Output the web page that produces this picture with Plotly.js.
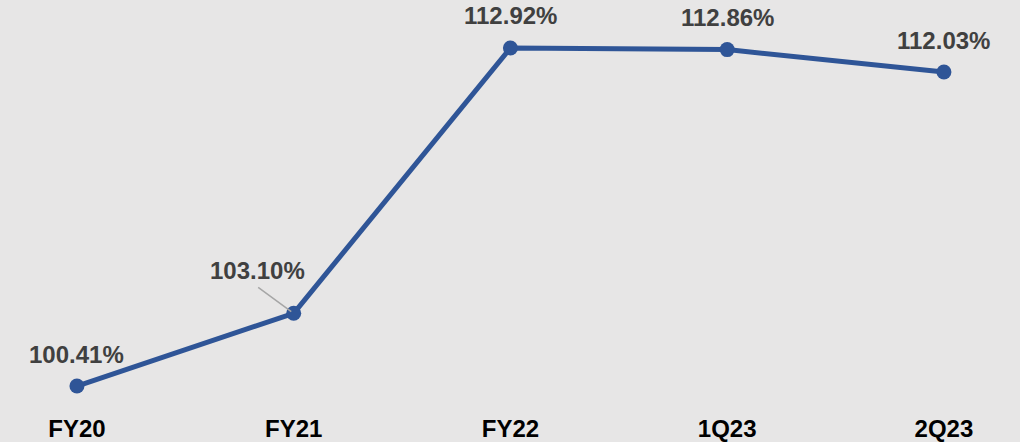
<!DOCTYPE html>
<html>
<head>
<meta charset="utf-8">
<script src="https://cdn.plot.ly/plotly-3.0.1.min.js"></script>
<style>html,body{margin:0;padding:0;background:#e7e6e6;}#chart{width:1020px;height:442px;}</style>
</head>
<body>
<div id="chart"></div>
<script>
const categories = ["FY20", "FY21", "FY22", "1Q23", "2Q23"];
const values = [100.41, 103.10, 112.92, 112.86, 112.03];
const labels = ["100.41%", "103.10%", "112.92%", "112.86%", "112.03%"];

const lineColor = "#2f5597";
const bg = "#e7e6e6";

const trace = {
  x: categories,
  y: values,
  type: "scatter",
  mode: "lines+markers",
  line: {color: lineColor, width: 5},
  marker: {color: lineColor, size: 15},
  hoverinfo: "skip",
  cliponaxis: false
};

const annotations = [];
labels.forEach((t, i) => {
  const a = {
    x: categories[i], y: values[i], xref: "x", yref: "y",
    text: "<b>" + t + "</b>", showarrow: false,
    font: {family: "Liberation Sans, Arial, sans-serif", size: 24, color: "#404040"},
    xanchor: "center", yanchor: "middle", yshift: 32
  };
  if (i === 1) { a.xshift = -36; a.yshift = 43; }
  annotations.push(a);
});
// leader line for FY21 label
annotations.push({
  x: categories[1], y: values[1], xref: "x", yref: "y",
  text: "", showarrow: true, arrowhead: 0, arrowwidth: 1.5, arrowcolor: "#a6a6a6",
  ax: -37, ay: -27, standoff: 3
});

const layout = {
  width: 1020, height: 442,
  margin: {l: 0, r: 0, t: 0, b: 30},
  paper_bgcolor: bg, plot_bgcolor: bg,
  showlegend: false,
  xaxis: {
    type: "category", range: [-0.355, 4.351],
    showgrid: false, zeroline: false, showline: false, ticks: "",
    tickfont: {family: "Liberation Sans, Arial, sans-serif", size: 24, color: "#000000", weight: "bold"},
    fixedrange: true
  },
  yaxis: {
    range: [99.448, 114.696],
    showgrid: false, zeroline: false, showline: false, showticklabels: false, ticks: "",
    fixedrange: true
  },
  annotations: annotations
};

Plotly.newPlot("chart", [trace], layout, {displayModeBar: false, staticPlot: true});
</script>
</body>
</html>
